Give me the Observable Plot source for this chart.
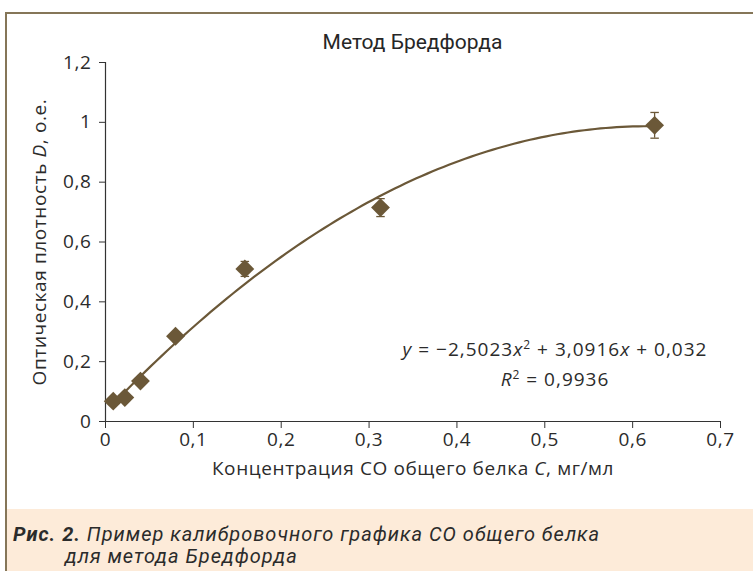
<!DOCTYPE html>
<html>
<head>
<meta charset="utf-8">
<script src="https://cdn.jsdelivr.net/npm/d3@7"></script>
<script src="https://cdn.jsdelivr.net/npm/@observablehq/plot@0.6"></script>
<style>
  html, body { margin: 0; padding: 0; background: #fff; }
  body { width: 753px; height: 571px; position: relative; overflow: hidden; font-family: "Open Sans", sans-serif; }
  #frame { position: absolute; left: 5px; top: 12px; width: 760px; height: 570px; border-left: 2px solid #857658; border-top: 2px solid #857658; box-sizing: border-box; }
  #chart { position: absolute; left: 0; top: 0; }
  #chart text { letter-spacing: 0.6px; }
  #chart text.eq { letter-spacing: 1px; }
  #title { position: absolute; left: 0; width: 825px; top: 30px; text-align: center; font-family: Roboto, sans-serif; font-size: 21px; color: #262626; }
  #caption { position: absolute; left: 7px; top: 509px; width: 760px; height: 70px; background: #fdebd9; font-family: Roboto, sans-serif; font-style: italic; font-size: 20px; letter-spacing: 1px; color: #2b2b2b; }
  #caption .l1 { position: absolute; left: 6px; top: 13px; white-space: nowrap; }
  #caption .l2 { position: absolute; left: 58px; top: 35px; white-space: nowrap; }
  #caption b { font-weight: 700; }
</style>
</head>
<body>
<div id="frame"></div>
<div id="chart"></div>
<div id="title"></div>
<div id="caption"><div class="l1"><b>Рис. 2.</b> Пример калибровочного графика СО общего белка</div><div class="l2">для метода Бредфорда</div></div>
<script>
// ---- data ----
const titleText = "Метод Бредфорда";
const concentrations = [0.0088, 0.022, 0.0398, 0.0797, 0.1586, 0.313, 0.625];
const density = [0.068, 0.08, 0.135, 0.285, 0.51, 0.715, 0.99];
const errors = [0.008, 0.008, 0.008, 0.01, 0.025, 0.03, 0.043];
const fitCoefs = [-2.5023, 3.0916, 0.032]; // a x^2 + b x + c
const rSquared = "0,9936";
const xTicks = [0, 0.1, 0.2, 0.3, 0.4, 0.5, 0.6, 0.7];
const yTicks = [0, 0.2, 0.4, 0.6, 0.8, 1, 1.2];
const xLabel = "Концентрация СО общего белка C, мг/мл";
const yLabel = "Оптическая плотность D, о.е.";

document.getElementById("title").textContent = titleText;

const points = concentrations.map((c, i) => ({x: c, y: density[i], e: errors[i]}));
const [a, b, c] = fitCoefs;
const xmin = d3.min(concentrations), xmax = d3.max(concentrations);
const curve = d3.range(0, 101).map(i => {
  const x = xmin + (xmax - xmin) * i / 100;
  return {x, y: a * x * x + b * x + c};
});

const fmt = d => String(d).replace(".", ",");
const brown = "#6b5838";
const cap = {draw(ctx, size) { const w = Math.sqrt(size); ctx.moveTo(-w, 0); ctx.lineTo(w, 0); }};

const plot = Plot.plot({
  width: 753,
  height: 500,
  marginLeft: 105,
  marginRight: 33,
  marginTop: 62,
  marginBottom: 79,
  style: {fontFamily: "'Open Sans', sans-serif", fontSize: "19px", color: "#2b2b2b", background: "transparent", overflow: "visible"},
  x: {domain: [0, 0.7], ticks: xTicks, tickFormat: fmt, label: null},
  y: {domain: [0, 1.2], ticks: yTicks, tickFormat: fmt, label: null},
  marks: [
    Plot.axisX({ticks: xTicks, tickFormat: fmt, tickSize: 7, tickPadding: 4, stroke: "#333", fontSize: 19, label: null}),
    Plot.axisY({ticks: yTicks, tickFormat: fmt, tickSize: 6, tickPadding: 8, stroke: "#333", fontSize: 19, label: null}),
    Plot.ruleX([0], {stroke: "#333", strokeWidth: 1.2}),
    Plot.ruleY([0], {stroke: "#333", strokeWidth: 1.2}),
    Plot.line(curve, {x: "x", y: "y", stroke: brown, strokeWidth: 2.2}),
    Plot.ruleX(points, {x: "x", y1: d => d.y - d.e, y2: d => d.y + d.e, stroke: brown, strokeWidth: 1.3}),
    Plot.dot(points, {x: "x", y: d => d.y + d.e, symbol: cap, r: 2.4, stroke: brown, strokeWidth: 1.3}),
    Plot.dot(points, {x: "x", y: d => d.y - d.e, symbol: cap, r: 2.4, stroke: brown, strokeWidth: 1.3}),
    Plot.dot(points, {x: "x", y: "y", symbol: "diamond2", r: 8.5, fill: brown, stroke: "none"}),
    Plot.text([xLabel], {frameAnchor: "bottom", dy: 53, text: d => d, fontSize: 19, textAnchor: "middle"}),
    Plot.text([yLabel], {frameAnchor: "left", dx: -66, rotate: -90, text: d => d, fontSize: 19, textAnchor: "middle"})
  ]
});

document.getElementById("chart").appendChild(plot);

function italicize(textEl, letter) {
  const s = textEl.textContent;
  const idx = s.indexOf(" " + letter + ",");
  if (idx < 0) return;
  textEl.textContent = "";
  const mk = (txt, it) => { const t = document.createElementNS("http://www.w3.org/2000/svg", "tspan"); t.textContent = txt; if (it) t.setAttribute("font-style", "italic"); return t; };
  textEl.append(mk(s.slice(0, idx + 1)), mk(letter, true), mk(s.slice(idx + 2)));
}
plot.querySelectorAll("text").forEach(t => {
  if (t.textContent === xLabel) italicize(t, "C");
  if (t.textContent === yLabel) italicize(t, "D");
});

// equation annotation
const ns = "http://www.w3.org/2000/svg";
function addText(x, y, html) {
  const t = document.createElementNS(ns, "text");
  t.setAttribute("class", "eq");
  t.setAttribute("x", x); t.setAttribute("y", y);
  t.setAttribute("text-anchor", "middle");
  t.setAttribute("font-size", "19"); t.setAttribute("fill", "#2b2b2b");
  t.setAttribute("font-family", "'Open Sans', sans-serif");
  t.innerHTML = html;
  plot.appendChild(t);
}
const f = v => fmt(Math.abs(v));
addText(555, 356, `<tspan font-style="italic">y</tspan> = ${a < 0 ? "−" : ""}${f(a)}<tspan font-style="italic">x</tspan><tspan dy="-7" font-size="12">2</tspan><tspan dy="7"> + ${f(b)}</tspan><tspan font-style="italic">x</tspan> + ${f(c)}`);
addText(555, 386, `<tspan font-style="italic">R</tspan><tspan dy="-7" font-size="12">2</tspan><tspan dy="7"> = ${rSquared}</tspan>`);
</script>
</body>
</html>
